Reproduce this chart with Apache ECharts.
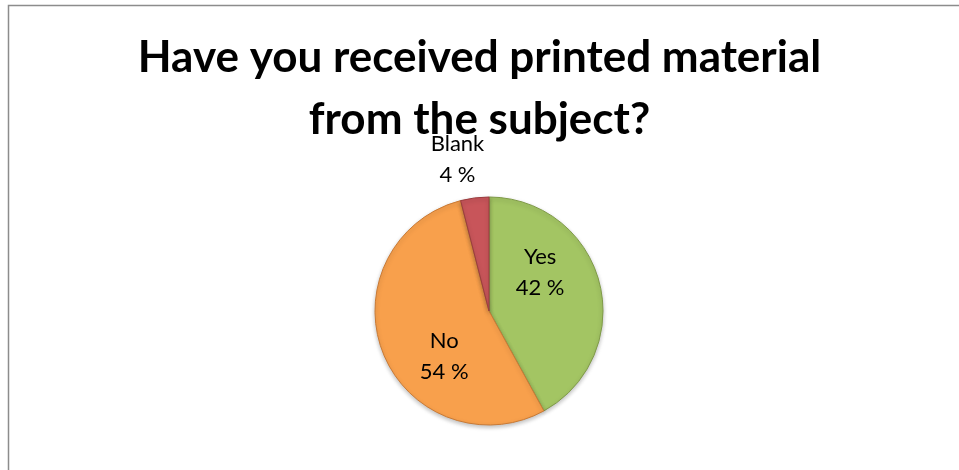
<!DOCTYPE html>
<html>
<head>
<meta charset="utf-8">
<script src="https://cdn.jsdelivr.net/npm/echarts@6/dist/echarts.min.js"></script>
<style>
  html, body { margin: 0; padding: 0; background: #fff; }
  #chart { width: 959px; height: 470px; }
</style>
</head>
<body>
<div id="chart"></div>
<script>
// Survey answers and their shares (percent)
const categories = ['Yes', 'No', 'Blank'];
const shares = [42, 54, 4];
const sliceColors = ['#A3C563', '#F8A04C', '#C8555A'];
const sliceEdges = ['#7F9A48', '#C97A35', '#9A3C3E'];

// Label nudges relative to the default inside position
const labelShift = {
  Yes: { dx: -7, dy: -24 },
  No: { dx: 11, dy: 23 },
  Blank: { dx: -24, dy: -92 }
};

const chart = echarts.init(document.getElementById('chart'));

chart.setOption({
  animation: false,
  title: {
    text: 'Have you received printed material\nfrom the subject?',
    left: 'center',
    top: 22,
    textStyle: {
      fontFamily: 'Lato',
      fontWeight: 'bold',
      fontSize: 44,
      lineHeight: 62,
      color: '#000'
    }
  },
  graphic: [{
    type: 'rect',
    shape: { x: 8.5, y: 5.5, width: 1200, height: 1200 },
    style: { fill: 'none', stroke: '#8c8c8c', lineWidth: 1.5 },
    silent: true
  }],
  series: [{
    type: 'pie',
    center: [489, 311],
    radius: [0, 114],
    startAngle: 90,
    clockwise: true,
    data: categories.map((name, i) => ({
      name,
      value: shares[i],
      itemStyle: {
        color: sliceColors[i],
        borderColor: sliceEdges[i],
        borderWidth: 1,
        shadowColor: 'rgba(0,0,0,0.25)',
        shadowBlur: 4,
        shadowOffsetY: 2
      }
    })),
    label: {
      show: true,
      position: 'inside',
      formatter: p => p.name + '\n' + p.value + ' %',
      fontFamily: 'Lato',
      fontSize: 22,
      lineHeight: 31,
      color: '#000'
    },
    labelLine: { show: false },
    labelLayout: p => labelShift[categories[p.dataIndex]]
  }]
});
</script>
</body>
</html>
